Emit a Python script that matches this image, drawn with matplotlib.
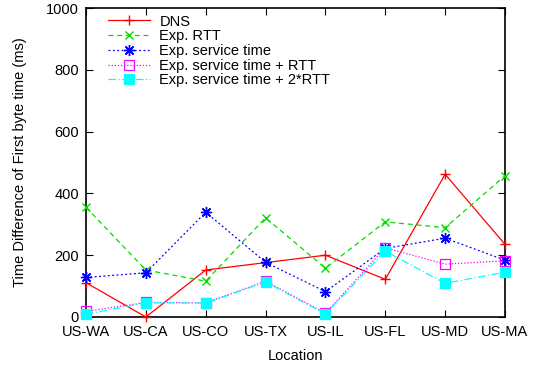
import matplotlib
matplotlib.use("Agg")
import matplotlib.pyplot as plt

plt.rcParams['font.family'] = ['Liberation Sans', 'DejaVu Sans']

locations = ["US-WA", "US-CA", "US-CO", "US-TX", "US-IL", "US-FL", "US-MD", "US-MA"]
dns = [111, 0, 152, 176, 200, 122, 462, 235]
exp_rtt = [355, 152, 116, 321, 158, 308, 289, 457]
exp_service = [128, 143, 339, 177, 82, 222, 255, 184]
exp_service_rtt = [18, 47, 46, 116, 12, 224, 171, 182]
exp_service_2rtt = [9, 46, 45, 113, 10, 213, 109, 145]
yticks = [0, 200, 400, 600, 800, 1000]

fs = 10.5
fig = plt.figure(figsize=(5.43, 3.67), dpi=100)
ax = fig.add_axes([86/543, 1-317/367, (505-86)/543, (317-8)/367])

x = list(range(len(locations)))
lw = 0.9
ax.plot(x, dns, color='#ff0000', ls='-', lw=lw, marker='+', ms=7, mew=1.0, label='DNS', clip_on=False, zorder=3)
ax.plot(x, exp_rtt, color='#00dd00', ls=(0, (4, 3)), lw=lw, marker='x', ms=6, mew=1.0, label='Exp. RTT', clip_on=False, zorder=3)
ax.plot(x, exp_service, color='#0000ff', ls=(0, (1.5, 2)), lw=lw, marker=(8, 2, 0), ms=8, mew=1.0, label='Exp. service time', clip_on=False, zorder=3)
ax.plot(x, exp_service_rtt, color='#ff00ff', ls=(0, (1, 1.5)), lw=lw, marker='s', ms=6.5, mew=0.9, mfc='none', label='Exp. service time + RTT', clip_on=False, zorder=3)
ax.plot(x, exp_service_2rtt, color='#00ffff', ls=(0, (6, 2, 1, 2)), lw=lw, marker='s', ms=6.5, mew=0.9, label='Exp. service time + 2*RTT', clip_on=False, zorder=3)

ax.set_xlim(0, len(locations)-1)
ax.set_ylim(0, 1000)
ax.set_xticks(x)
ax.set_xticklabels(locations)
ax.set_yticks(yticks)
ax.tick_params(direction='in', top=True, right=True, length=5, width=0.8, labelsize=fs, colors='black')
ax.tick_params(axis='x', pad=6)
ax.tick_params(axis='y', pad=5)
for s in ax.spines.values():
    s.set_linewidth(1.2)
ax.set_xlabel('Location', fontsize=fs, labelpad=7)
ax.set_ylabel('Time Difference of First byte time (ms)', fontsize=fs, labelpad=14)

ax.legend(loc='upper left', frameon=False, fontsize=fs, handlelength=2.85, handletextpad=0.68,
          labelspacing=0.05, borderpad=0, borderaxespad=0,
          bbox_to_anchor=(22/419, 1 - 6.5/309))

fig.savefig('out.png', dpi=100)
